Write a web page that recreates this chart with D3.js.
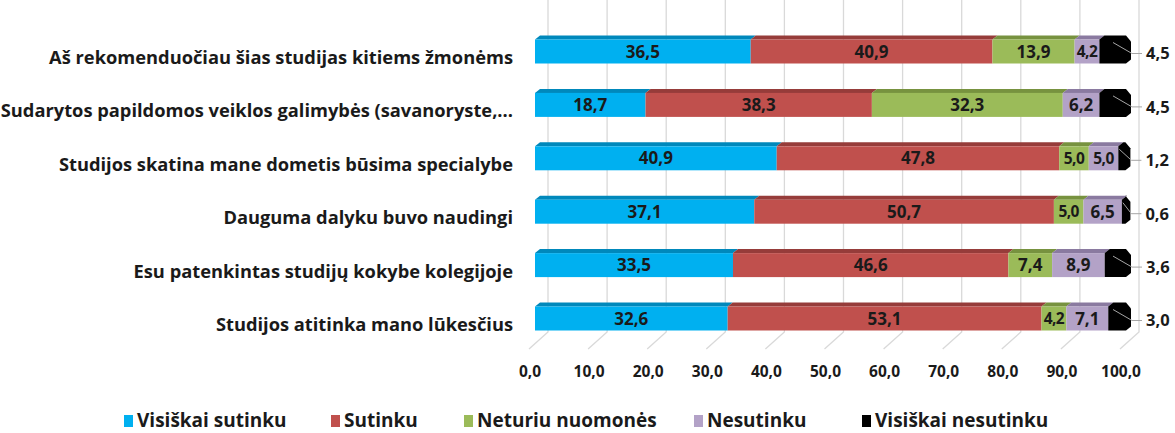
<!DOCTYPE html>
<html lang="lt">
<head>
<meta charset="UTF-8" />
<title>Studijų vertinimas</title>
<script src="https://cdn.jsdelivr.net/npm/d3@7"></script>
<style>
body{margin:0;background:#fff}
svg{display:block;font-family:"Open Sans",Lato,sans-serif;font-weight:700}
</style>
</head>
<body>
<svg id="chart" width="1175" height="433"></svg>
<script>
/* ===== data ===== */
const categories=[
  "Aš rekomenduočiau šias studijas kitiems žmonėms",
  "Sudarytos papildomos veiklos galimybės (savanoryste,...",
  "Studijos skatina mane dometis būsima specialybe",
  "Dauguma dalyku buvo naudingi",
  "Esu patenkintas studijų kokybe kolegijoje",
  "Studijos atitinka mano lūkesčius"
];
const seriesNames=["Visiškai sutinku","Sutinku","Neturiu nuomonės","Nesutinku","Visiškai nesutinku"];
const visiskaiSutinku  =[36.5,18.7,40.9,37.1,33.5,32.6];
const sutinku          =[40.9,38.3,47.8,50.7,46.6,53.1];
const neturiuNuomones  =[13.9,32.3, 5.0, 5.0, 7.4, 4.2];
const nesutinku        =[ 4.2, 6.2, 5.0, 6.5, 8.9, 7.1];
const visiskaiNesutinku=[ 4.5, 4.5, 1.2, 0.6, 3.6, 3.0];
const xTicks=[0,10,20,30,40,50,60,70,80,90,100];

const series=[visiskaiSutinku,sutinku,neturiuNuomones,nesutinku,visiskaiNesutinku];
const colors=["#00b0f0","#c0504d","#9bbb59","#b3a2c7","#000000"];
const tops  =["#0088bb","#963c3a","#77923f","#8a7aa0","#000000"];

/* ===== layout ===== */
const svg=d3.select('#chart');
const xFront=d3.scaleLinear().domain([0,100]).range([535,1126]);   // bar front faces
const xBack =d3.scaleLinear().domain([0,100]).range([548,1139]);   // back wall grid
const xFloor=d3.scaleLinear().domain([0,100]).range([529,1120]);   // floor front edge
const y=d3.scalePoint().domain(categories).range([51.5,318.5]);
const BH=24,DX=5,DY=4,wallBottom=332,floorFront=349;
const fmt=v=>d3.format('.1f')(v).replace('.',',');
const txt='#1a1a1a';

/* back wall gridlines + floor lines */
const grid=svg.append('g').attr('stroke','#d9d9d9').attr('stroke-width',1.3).attr('fill','none');
xTicks.forEach(t=>{
  grid.append('path').attr('d',`M${xBack(t)},0V${wallBottom}L${xFloor(t)},${floorFront}`);
});

/* tick labels */
svg.append('g').selectAll('text').data(xTicks).join('text')
  .attr('x',d=>xFloor(d)+1).attr('y',372).attr('dy','0.35em')
  .attr('text-anchor','middle').attr('font-size',15.5).attr('fill',txt)
  .text(fmt);

/* stacked bars */
const stacked=categories.map((c,i)=>{
  let acc=0;
  return series.map((s,k)=>{const a=acc;acc+=s[i];return{cat:c,k,v:s[i],x0:a,x1:acc}});
});
const bars=svg.append('g');
stacked.forEach(row=>{
  const cy=y(row[0].cat),yt=cy-BH/2,yb=cy+BH/2;
  row.forEach(d=>{
    const xa=xFront(d.x0),xb=xFront(d.x1);
    if(d.k===4){
      // last segment: front + top + bevelled side
      bars.append('path').attr('fill','#000')
        .attr('d',`M${xa},${yt}L${xa+DX},${yt-DY}L${xb},${yt-DY}L${xb+DX},${yt+2}L${xb+DX},${yb-4}L${xb},${yb}L${xa},${yb}Z`);
      return;
    }
    bars.append('path').attr('fill',tops[d.k])
      .attr('d',`M${xa},${yt}L${xa+DX},${yt-DY}L${xb+DX},${yt-DY}L${xb},${yt}Z`);
    bars.append('rect').attr('x',xa).attr('y',yt).attr('width',Math.max(0,xb-xa)).attr('height',BH)
      .attr('fill',colors[d.k]);
    bars.append('text').attr('x',(xa+xb)/2).attr('y',cy).attr('dy','0.36em')
      .attr('text-anchor','middle').attr('font-size',d.v<6?15.5:17).attr('fill',txt)
      .attr('letter-spacing',d.v<6?-0.6:0)
      .text(fmt(d.v));
  });
  // outside label for the last series with leader line
  const last=row[4],xa=xFront(last.x0),xb=xFront(last.x1);
  const sx=Math.max(xa+1,xb-13);
  svg.append('path').attr('fill','none').attr('stroke','#a6a6a6').attr('stroke-width',1)
    .attr('d',`M${sx},${cy-9}L${xb+6},${cy+2}H${xb+16}`);
  svg.append('text').attr('x',xb+20).attr('y',cy+2).attr('dy','0.36em')
    .attr('font-size',16.5).attr('fill',txt).text(fmt(last.v));
});

/* category labels */
svg.append('g').selectAll('text').data(categories).join('text')
  .attr('x',513).attr('y',d=>y(d)+6).attr('dy','0.36em')
  .attr('text-anchor','end').attr('font-size',18.3).attr('fill',txt)
  .text(d=>d);

/* legend */
const legX=[124,331,464,694,862];
const leg=svg.append('g').selectAll('g').data(seriesNames).join('g')
  .attr('transform',(d,i)=>`translate(${legX[i]},420)`);
leg.append('rect').attr('x',0).attr('y',-5).attr('width',9).attr('height',12)
  .attr('fill',(d,i)=>colors[i]);
leg.append('text').attr('x',13).attr('dy','0.36em').attr('font-size',19).attr('fill',txt).text(d=>d);
</script>
</body>
</html>
